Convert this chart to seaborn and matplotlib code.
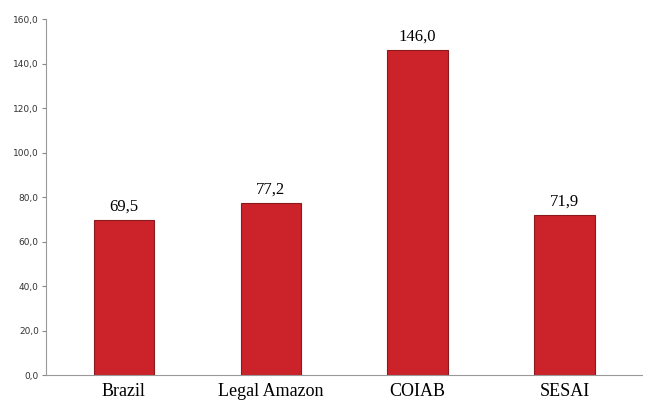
import matplotlib
matplotlib.use("Agg")
import matplotlib.pyplot as plt
import seaborn as sns
import pandas as pd

categories = ["Brazil", "Legal Amazon", "COIAB", "SESAI"]
values = [69.5, 77.2, 146.0, 71.9]
yticks = [0, 20, 40, 60, 80, 100, 120, 140, 160]

df = pd.DataFrame({"cat": categories, "val": values})

sns.set_style("white")
fig = plt.figure(figsize=(6.45, 4.05), dpi=100)
ax = fig.add_axes([0.071, 0.074, 0.925, 0.879])

sns.barplot(data=df, x="cat", y="val", color="#cc2229", width=0.41,
            edgecolor="#8a1a1e", linewidth=0.8, saturation=1, ax=ax)

ax.set_ylim(0, 160)
ax.set_yticks(yticks)
ax.set_yticklabels([f"{t:.1f}".replace(".", ",") for t in yticks],
                   fontsize=6.5, color="#333333")
ax.tick_params(axis="y", length=3, width=0.8, color="#888888", left=True, pad=2)
ax.tick_params(axis="x", length=0, pad=6)
for lbl in ax.get_xticklabels():
    lbl.set_family("Liberation Serif")
    lbl.set_fontsize(13)
    lbl.set_color("black")
ax.set_xlabel("")
ax.set_ylabel("")
ax.set_xlim(-0.53, 3.53)

for s in ["top", "right"]:
    ax.spines[s].set_visible(False)
for s in ["left", "bottom"]:
    ax.spines[s].set_color("#999999")
    ax.spines[s].set_linewidth(0.8)

for p, v in zip(ax.patches, values):
    ax.text(p.get_x() + p.get_width() / 2, p.get_height() + 2.5,
            f"{v:.1f}".replace(".", ","), ha="center", va="bottom",
            family="Liberation Serif", fontsize=12, color="black")

fig.savefig("out.png", dpi=100)
